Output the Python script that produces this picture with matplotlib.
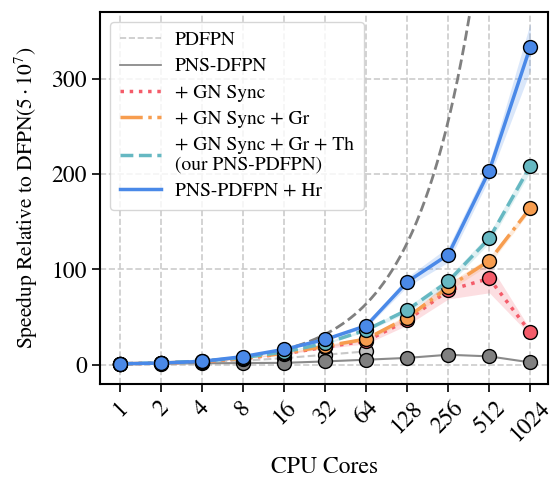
import numpy as np
import matplotlib
matplotlib.use("Agg")
import matplotlib.pyplot as plt
from matplotlib.lines import Line2D

plt.rcParams['font.family'] = 'STIXGeneral'
plt.rcParams['mathtext.fontset'] = 'stix'

cores = [1, 2, 4, 8, 16, 32, 64, 128, 256, 512, 1024]

# PDFPN only measured up to 64 cores
pdfpn = [1, 1.6, 2.6, 4.2, 7.0, 10.5, 14.0]
pns_dfpn = [1, 1.2, 1.5, 1.8, 2.0, 3.5, 5.3, 7.2, 10.5, 8.8, 2.5]
gn_sync = [1, 1.8, 3.4, 6.5, 11.5, 18.5, 25, 46.5, 78, 90.5, 34]
gn_sync_err = [0, 0.1, 0.2, 0.4, 0.8, 1.5, 3, 5, 9, 15, 3]
gn_gr = [1, 1.8, 3.4, 6.6, 12, 19.5, 27, 49.5, 81.5, 109, 164.5]
gn_gr_err = [0, 0.1, 0.2, 0.4, 0.8, 1.2, 2, 3, 4, 4, 3]
gn_gr_th = [1, 2.0, 3.8, 7.5, 13.5, 22.5, 36.5, 57.5, 87.5, 132.5, 208.5]
gn_gr_th_err = [0, 0.1, 0.2, 0.3, 0.6, 1, 1.5, 3, 4, 5, 6]
hr = [1, 1.8, 3.6, 8.6, 16.2, 26.5, 41, 87, 115.5, 203.5, 333.5]
hr_err = [0, 0.1, 0.2, 0.4, 0.8, 1.2, 2, 5, 8, 8, 25]

labels = ['PDFPN', 'PNS-DFPN', '+ GN Sync', '+ GN Sync + Gr',
          '+ GN Sync + Gr + Th\n(our PNS-PDFPN)', 'PNS-PDFPN + Hr']

xt = np.arange(len(cores))

fig = plt.figure(figsize=(5.5, 4.78), dpi=100)
ax = fig.add_axes([0.182, 0.197, 0.815, 0.778])

# ideal linear speedup reference
xs = np.linspace(0, 10, 300)
ax.plot(xs, 2.0**xs, '--', color='#808080', lw=2, zorder=1)

ms = 10
ax.plot(xt[:len(pdfpn)], pdfpn, '--', color='#c8c8c8', lw=1.5, zorder=2)
ax.plot(xt[:len(pdfpn)], pdfpn, 'o', color='#c0c0c0', mec='k', ms=ms, zorder=2)
ax.plot(xt, pns_dfpn, '-', color='#8a8a8a', lw=1.5, zorder=2)
ax.plot(xt, pns_dfpn, 'o', color='#808080', mec='k', ms=ms, zorder=2)

series = [
    (gn_sync, gn_sync_err, '#f45b69', ':', 3),
    (gn_gr, gn_gr_err, '#f79d4f', '-.', 4),
    (gn_gr_th, gn_gr_th_err, '#66b8c2', '--', 5),
    (hr, hr_err, '#4a89e8', '-', 6),
]
for vals, err, c, ls, z in series:
    v = np.array(vals)
    e = np.array(err)
    ax.fill_between(xt, v - e, v + e, color=c, alpha=0.2, lw=0, zorder=z)
    ax.plot(xt, v, ls, color=c, lw=2.5, zorder=z)
    ax.plot(xt, v, 'o', color=c, mec='k', ms=ms, zorder=z)

handles = [
    Line2D([], [], ls='--', color='#c8c8c8', lw=1.2),
    Line2D([], [], ls='-', color='#808080', lw=1.2),
    Line2D([], [], ls=':', color='#f45b69', lw=2.5),
    Line2D([], [], ls='-.', color='#f79d4f', lw=2.5),
    Line2D([], [], ls='--', color='#66b8c2', lw=2.5),
    Line2D([], [], ls='-', color='#4a89e8', lw=2.5),
]
leg = ax.legend(handles, labels, loc='upper left', fontsize=14,
                handlelength=2.15, handletextpad=0.7, labelspacing=0.45,
                borderpad=0.5, framealpha=0.8, edgecolor='#cccccc')
leg.set_zorder(10)

ax.set_xticks(xt)
ax.set_xticklabels([str(c) for c in cores], rotation=45, fontsize=17)
ax.set_yticks([0, 100, 200, 300])
ax.tick_params(axis='y', labelsize=17)
ax.tick_params(length=6, width=1.2)
ax.set_xlim(-0.49, 10.44)
ax.set_ylim(-20, 370)
ax.grid(True, ls='--', color='#cccccc', lw=1.2)
ax.set_axisbelow(True)
for s in ax.spines.values():
    s.set_linewidth(1.5)

ax.set_xlabel('CPU Cores', fontsize=17, va='center')
ax.xaxis.set_label_coords(0.5, -0.225)
ax.set_ylabel(r'Speedup Relative to DFPN$(5\cdot10^7)$', fontsize=15.5, labelpad=8)

fig.savefig('out.png', dpi=100)
